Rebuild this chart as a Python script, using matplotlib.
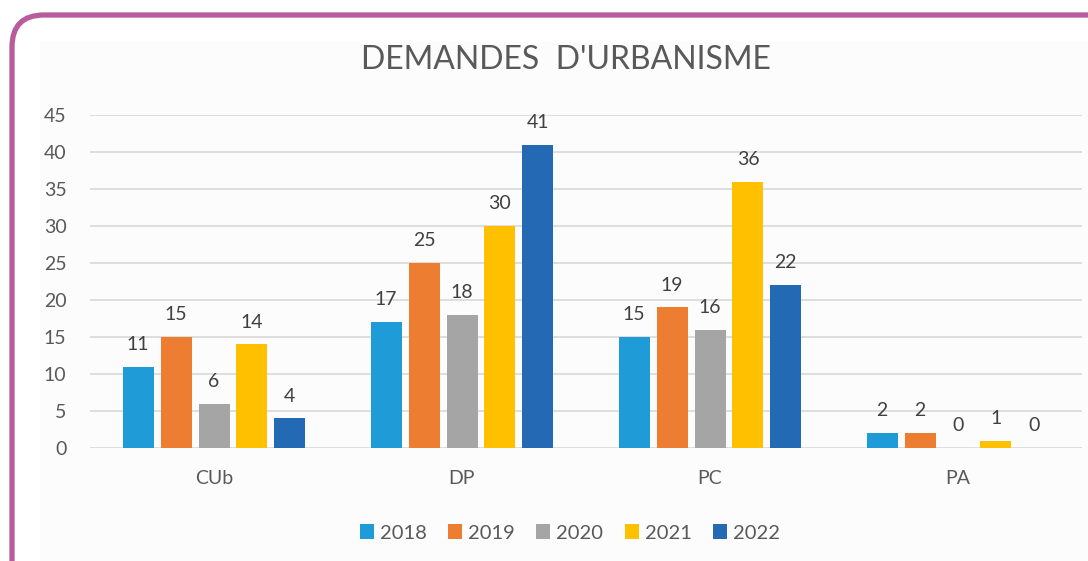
import numpy as np
import matplotlib.pyplot as plt
from matplotlib.patches import FancyBboxPatch, Rectangle

plt.rcParams['font.family'] = ['Lato', 'DejaVu Sans']

# données
categories = ['CUb', 'DP', 'PC', 'PA']
years = ['2018', '2019', '2020', '2021', '2022']
values = {
    '2018': [11, 17, 15, 2],
    '2019': [15, 25, 19, 2],
    '2020': [6, 18, 16, 0],
    '2021': [14, 30, 36, 1],
    '2022': [4, 41, 22, 0],
}
colors = ['#1F9BD7', '#ED7D31', '#A5A5A5', '#FFC000', '#2469B3']

fig = plt.figure(figsize=(10.88, 5.61), dpi=100)

# cadre violet arrondi
frame = FancyBboxPatch((0.12, -1.0), 11.5, 6.46, boxstyle='round,pad=0,rounding_size=0.32',
                       transform=fig.dpi_scale_trans, facecolor='white', edgecolor='#B85C9E',
                       linewidth=3.8, zorder=0)
fig.patches.append(frame)
panel = Rectangle((0.40, -0.1), 10.6, 5.29, transform=fig.dpi_scale_trans,
                  facecolor='#FCFCFC', edgecolor='none', zorder=0.5)
fig.patches.append(panel)

ax = fig.add_axes([90 / 1088, 1 - 448 / 561, 992 / 1088, 333 / 561])
ax.set_facecolor('none')
ax.set_zorder(2)

x = np.arange(len(categories))
width = 0.125
pitch = 0.153
for i, yr in enumerate(years):
    bars = ax.bar(x + (i - 2) * pitch, values[yr], width, color=colors[i], label=yr, zorder=3)
    ax.bar_label(bars, padding=10, fontsize=14, color='#404040')

ax.set_xlim(-0.5, 3.5)
ax.set_ylim(0, 45)
ax.set_yticks(np.arange(0, 46, 5))
ax.set_xticks(x)
ax.set_xticklabels(categories)
ax.grid(axis='y', color='#D9D9D9', linewidth=1.2, zorder=0)
for s in ax.spines.values():
    s.set_visible(False)
ax.tick_params(axis='both', length=0, labelsize=14, labelcolor='#595959')
ax.tick_params(axis='y', pad=17)
ax.tick_params(axis='x', pad=16)

fig.text(566 / 1088, 1 - 60 / 561, "DEMANDES  D'URBANISME", ha='center', va='center',
         fontsize=23, color='#595959', zorder=3)

fig.legend(loc='center', bbox_to_anchor=(570 / 1088, 1 - 533 / 561), ncol=5, frameon=False,
           fontsize=14.5, labelcolor='#595959', handlelength=0.7, handleheight=0.7,
           handletextpad=0.3, columnspacing=1.05).set_zorder(3)

fig.savefig('out.png', dpi=100)
